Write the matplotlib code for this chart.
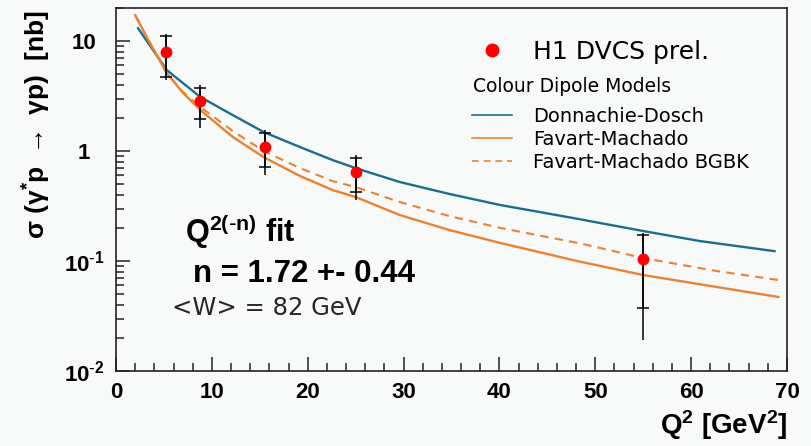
import numpy as np
import matplotlib
matplotlib.use("Agg")
import matplotlib.pyplot as plt
from matplotlib.lines import Line2D
from matplotlib.ticker import LogLocator, MultipleLocator, NullFormatter, FixedLocator

plt.rcParams['mathtext.default'] = 'regular'

# H1 DVCS preliminary cross sections
q2_data = np.array([5.2, 8.8, 15.5, 25.0, 55.0])
sig_data = np.array([8.0, 2.85, 1.08, 0.65, 0.104])
stat_hi = np.array([11.2, 3.71, 1.47, 0.86, 0.172])
stat_lo = np.array([4.68, 1.94, 0.72, 0.427, 0.0376])
tot_hi = np.array([11.5, 3.98, 1.55, 0.92, 0.179])
tot_lo = np.array([4.42, 1.61, 0.605, 0.359, 0.0191])

# colour dipole model predictions
q2_dd = [2.3, 5.3, 8.8, 12.2, 15.4, 19.2, 22.6, 25.0, 29.6, 34.8, 40.1, 47.7, 55.0, 60.9, 68.7]
sig_dd = [13.1, 5.45, 3.10, 2.12, 1.49, 1.087, 0.828, 0.70, 0.523, 0.407, 0.323, 0.246,
          0.1875, 0.152, 0.123]

q2_fm = [2.0, 3.55, 5.3, 7.0, 8.8, 12.2, 15.4, 19.2, 22.6, 25.0, 29.6, 34.8, 40.1, 48.1,
         55.0, 62.7, 69.1]
sig_fm = [17.2, 9.59, 5.12, 3.37, 2.36, 1.34, 0.881, 0.593, 0.442, 0.382, 0.262, 0.191,
          0.146, 0.100, 0.0746, 0.058, 0.0471]

q2_bgbk = [2.0, 3.55, 5.3, 7.0, 8.8, 12.2, 15.4, 19.2, 22.6, 25.0, 29.6, 34.8, 40.1, 48.7,
           55.0, 62.7, 69.1]
sig_bgbk = [17.2, 9.59, 5.12, 3.44, 2.51, 1.52, 1.0, 0.70, 0.533, 0.471, 0.344, 0.256,
            0.20, 0.143, 0.1064, 0.081, 0.0672]

ytick_vals = [0.01, 0.1, 1, 10]
ytick_labels = ['10$^{\\text{-}2}$', '10$^{\\text{-}1}$', '1', '10']

bg = '#f7faf9'
teal = '#1d6d8a'
orange = '#ea8233'

fig = plt.figure(figsize=(8.12, 4.46), dpi=100, facecolor=bg)
ax = fig.add_axes([116/812, 1-371/446, 671/812, 363/446], facecolor=bg)

ax.plot(q2_dd, sig_dd, color=teal, lw=1.7)
ax.plot(q2_fm, sig_fm, color=orange, lw=1.7)
ax.plot(q2_bgbk, sig_bgbk, color=orange, lw=1.5, ls=(0, (4, 3)))

ax.errorbar(q2_data, sig_data, yerr=[sig_data-tot_lo, tot_hi-sig_data],
            fmt='none', ecolor='black', elinewidth=1.1)
ax.errorbar(q2_data, sig_data, yerr=[sig_data-stat_lo, stat_hi-sig_data],
            fmt='none', ecolor='black', elinewidth=1.1, capsize=4, capthick=1.1)
ax.plot(q2_data, sig_data, 'o', color='red', ms=7.5, mec='red', zorder=5)

ax.set_yscale('log')
ax.set_xlim(0, 70)
ax.set_ylim(0.01, 20)

ax.xaxis.set_major_locator(MultipleLocator(10))
ax.xaxis.set_minor_locator(MultipleLocator(2))
ax.yaxis.set_major_locator(FixedLocator(ytick_vals))
ax.set_yticklabels(ytick_labels)
ax.yaxis.set_minor_locator(LogLocator(base=10, subs=np.arange(2, 10)))
ax.yaxis.set_minor_formatter(NullFormatter())

ax.tick_params(which='both', direction='in', top=False, right=False, color='#222')
ax.tick_params(which='major', length=10, width=1.1)
ax.tick_params(which='minor', length=5.5, width=1.1)
ax.tick_params(axis='x', pad=8)
ax.tick_params(axis='y', pad=23)
for lab in ax.get_xticklabels() + ax.get_yticklabels():
    lab.set_family('Liberation Sans')
    lab.set_weight('bold')
    lab.set_fontsize(16)
for lab in ax.get_yticklabels():
    lab.set_ha('center')
for sp in ax.spines.values():
    sp.set_linewidth(1.2)
    sp.set_color('#222')

ax.set_xlabel('Q$^{2}$ [GeV$^{2}$]', loc='right', fontsize=20, fontweight='bold',
              family='Liberation Sans', labelpad=4)
fig.text(37/812, 1-10/446, 'σ (γ$^{*}$p $\\rightarrow$ γp)  [nb]', rotation=90,
         ha='center', va='top', fontsize=19, fontweight='bold',
         family=['Liberation Sans', 'DejaVu Sans'])

ax.text(0.103, 0.355, 'Q$^{2(\\text{-}n)}$ fit', transform=ax.transAxes, fontsize=22,
        fontweight='bold', family='Liberation Sans', va='baseline')
ax.text(0.115, 0.245, 'n = 1.72 +- 0.44', transform=ax.transAxes, fontsize=22.5,
        fontweight='bold', family='Liberation Sans', va='baseline')
ax.text(0.083, 0.154, '<W> = 82 GeV', transform=ax.transAxes, fontsize=17.5,
        family='DejaVu Sans', color='#262626', va='baseline')

# legends
h_data = Line2D([], [], ls='none', marker='o', ms=9, color='red')
leg1 = ax.legend([h_data], ['H1 DVCS prel.'], loc='center left',
                 bbox_to_anchor=((479.5-116)/671, (371-52)/363), frameon=False,
                 prop={'family': 'DejaVu Sans', 'size': 18}, borderpad=0, borderaxespad=0,
                 handlelength=1.0, handletextpad=1.14)
ax.add_artist(leg1)

ax.text((473-116)/671, (371-87)/363, 'Colour Dipole Models', transform=ax.transAxes,
        fontsize=13.5, family='DejaVu Sans', va='center', ha='left')

h_dd = Line2D([], [], color=teal, lw=1.2)
h_fm = Line2D([], [], color=orange, lw=1.2)
h_bgbk = Line2D([], [], color=orange, lw=1.2, ls=(0, (4, 3)))
leg2 = ax.legend([h_dd, h_fm, h_bgbk], ['Donnachie-Dosch', 'Favart-Machado', 'Favart-Machado BGBK'],
                 loc='center left', bbox_to_anchor=((472-116)/671, (371-139.5)/363),
                 frameon=False, prop={'family': 'DejaVu Sans', 'size': 14},
                 borderpad=0, borderaxespad=0, handlelength=2.06, handletextpad=1.08,
                 labelspacing=0.2)

fig.savefig('out.png', dpi=100, facecolor=bg)
